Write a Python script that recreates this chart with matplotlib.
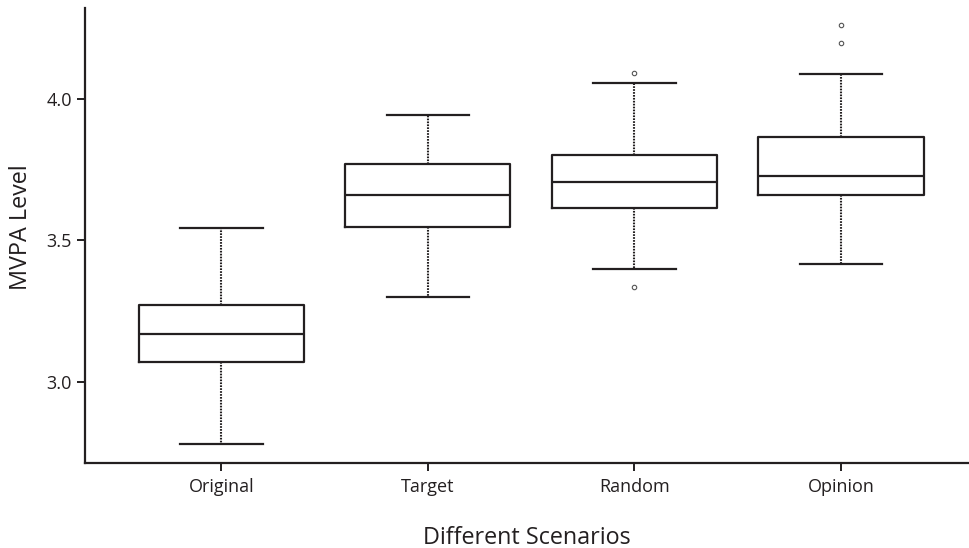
import matplotlib.pyplot as plt

plt.rcParams['font.family'] = ['Open Sans', 'DejaVu Sans']

# Dados
labels = ['Original', 'Target', 'Random', 'Opinion']
q1 = [3.069, 3.546, 3.614, 3.659]
med = [3.168, 3.659, 3.706, 3.728]
q3 = [3.272, 3.769, 3.800, 3.865]
whislo = [2.779, 3.299, 3.397, 3.415]
whishi = [3.543, 3.943, 4.055, 4.086]
fliers = [[], [], [4.091, 3.334], [4.259, 4.197]]

stats = []
for k in range(len(labels)):
    stats.append({'label': labels[k], 'q1': q1[k], 'med': med[k], 'q3': q3[k],
                  'whislo': whislo[k], 'whishi': whishi[k], 'fliers': fliers[k]})

cor = '#231f20'

fig = plt.figure(figsize=(9.69, 5.48), dpi=100)
ax = fig.add_axes([0.0877, 0.155, 0.9123, 0.830])

ax.bxp(stats, positions=[1, 2, 3, 4], widths=0.8,
       boxprops=dict(color=cor, linewidth=1.6),
       medianprops=dict(color=cor, linewidth=1.6),
       whiskerprops=dict(color=cor, linewidth=1.5, linestyle=(0, (0.8, 0.6))),
       capprops=dict(color=cor, linewidth=1.6),
       flierprops=dict(marker='o', markersize=3.2, markerfacecolor='white',
                       markeredgecolor='#555555', markeredgewidth=0.8))

ax.set_xlim(0.34, 4.62)
ax.set_ylim(2.713, 4.32)
ax.set_yticks([3.0, 3.5, 4.0])
ax.set_yticklabels(['3.0', '3.5', '4.0'])

ax.spines['top'].set_visible(False)
ax.spines['right'].set_visible(False)
for s in ['left', 'bottom']:
    ax.spines[s].set_linewidth(1.6)
    ax.spines[s].set_color(cor)
ax.tick_params(axis='both', length=6, width=1.4, color=cor,
               labelsize=13, labelcolor=cor)
ax.tick_params(axis='x', pad=5)

ax.set_xlabel('Different Scenarios', fontsize=16.8, color=cor, labelpad=21)
ax.set_ylabel('MVPA Level', fontsize=16.8, color=cor)
ax.yaxis.set_label_coords(-0.059, 0.519)

plt.savefig('out.png')
